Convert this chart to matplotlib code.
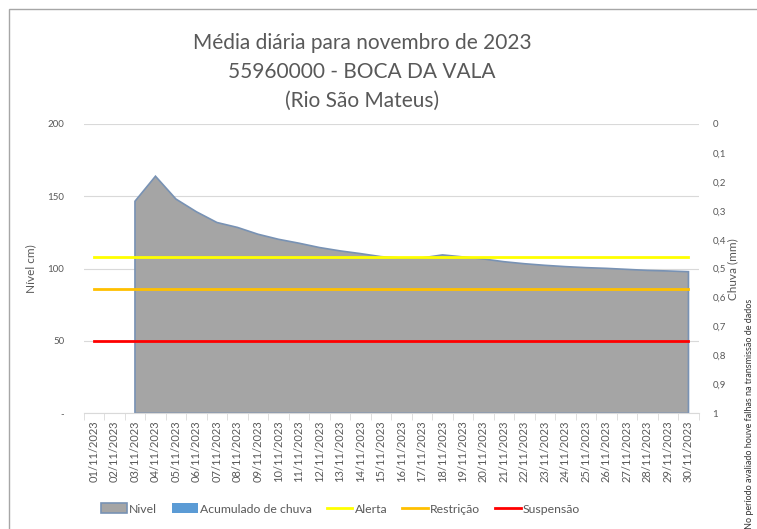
import matplotlib.pyplot as plt
from matplotlib.patches import Patch, Rectangle
from matplotlib.lines import Line2D

plt.rcParams['font.family'] = ['Lato', 'DejaVu Sans']

# dados
dias = ['%02d/11/2023' % d for d in range(1, 31)]
nivel = [None, None, 146.6, 163.9, 148.1, 139.3, 131.9, 128.5, 123.8, 120.3,
         117.6, 114.6, 112.3, 110.4, 108.3, 107.3, 107.4, 109.5, 108.1, 106.7,
         104.8, 103.4, 102.3, 101.4, 100.7, 100.2, 99.5, 98.8, 98.4, 97.9]
chuva = [0.0] * 30
alerta = [108] * 30
restricao = [86] * 30
suspensao = [50] * 30

cinza_txt = '#595959'

fig = plt.figure(figsize=(7.57, 5.29), dpi=100)
ax = fig.add_axes([0.1106, 0.2187, 0.8124, 0.5469])

x = list(range(len(dias)))

# area do nivel
xs = [i for i, v in zip(x, nivel) if v is not None]
ys = [v for v in nivel if v is not None]
ax.fill([xs[0]] + xs + [xs[-1]], [0] + ys + [0], facecolor='#a5a5a5',
        edgecolor='#7892b4', linewidth=1.2, zorder=2)

ax.plot(x, alerta, color='#ffff00', lw=2, zorder=3)
ax.plot(x, restricao, color='#ffc000', lw=2, zorder=3)
ax.plot(x, suspensao, color='#ff0000', lw=2, zorder=3)

ax.set_xlim(-0.5, 29.5)
ax.set_ylim(0, 200)
ax.set_yticks([0, 50, 100, 150, 200])
ax.set_yticklabels(['-', '50', '100', '150', '200'])
ax.yaxis.grid(True, color='#d9d9d9', lw=0.8)
ax.set_axisbelow(True)
ax.set_xticks(x)
ax.set_xticklabels(dias, rotation=90, fontsize=8, color=cinza_txt)
ax.set_xticks([i - 0.5 for i in range(31)], minor=True)
ax.tick_params(axis='x', which='major', length=0, pad=5)
ax.tick_params(axis='x', which='minor', length=5, color='#d9d9d9')
ax.tick_params(axis='y', length=0, labelsize=7, labelcolor=cinza_txt, pad=14)
for s in ['top', 'right', 'left']:
    ax.spines[s].set_visible(False)
ax.spines['bottom'].set_color('#d9d9d9')
ax.set_ylabel('Nível cm)', color=cinza_txt, fontsize=8.5, labelpad=8)

# eixo da chuva
ax2 = ax.twinx()
ax2.bar(x, chuva, color='#5b9bd5', width=0.6)
ax2.set_ylim(1, 0)
ticks = [i / 10 for i in range(11)]
ax2.set_yticks(ticks)
ax2.set_yticklabels([('%g' % t).replace('.', ',') for t in ticks])
ax2.tick_params(axis='y', length=0, labelsize=7, labelcolor=cinza_txt, pad=10)
for s in ax2.spines.values():
    s.set_visible(False)
ax2.set_ylabel('Chuva (mm)', color=cinza_txt, fontsize=8.5, labelpad=1)

fig.text(0.478, 0.938, 'Média diária para novembro de 2023\n55960000 - BOCA DA VALA\n(Rio São Mateus)',
         ha='center', va='top', fontsize=15, color=cinza_txt, linespacing=1.55)

handles = [Patch(facecolor='#a5a5a5', edgecolor='#7892b4', lw=1.2),
           Patch(facecolor='#5b9bd5'),
           Line2D([], [], color='#ffff00', lw=2),
           Line2D([], [], color='#ffc000', lw=2),
           Line2D([], [], color='#ff0000', lw=2)]
fig.legend(handles, ['Nivel', 'Acumulado de chuva', 'Alerta', 'Restrição', 'Suspensão'],
           loc='center', bbox_to_anchor=(0.45, 0.038), ncol=5, frameon=False,
           fontsize=8.8, labelcolor=cinza_txt, handlelength=2.1, handleheight=0.9,
           columnspacing=1.2, handletextpad=0.2)

fig.text(0.99, 0.0, 'No período avaliado houve falhas na transmissão de dados',
         rotation=90, ha='center', va='bottom', fontsize=6.5, color='#333333')

fig.patches.append(Rectangle((9 / 757, -0.1), 1.2, 1 - 9 / 529 + 0.1,
                             transform=fig.transFigure, fill=False,
                             edgecolor='#a6a6a6', lw=1))

fig.savefig('out.png', dpi=100)
